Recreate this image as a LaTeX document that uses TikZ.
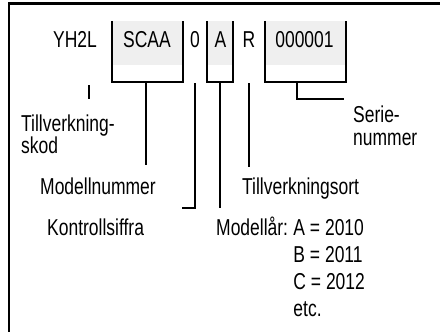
\documentclass[tikz,border=0pt]{standalone}
\usepackage{fontspec}
\setmainfont[FakeStretch=0.76]{Liberation Sans}
\definecolor{boxgray}{HTML}{EFEFEF}
\begin{document}
\begin{tikzpicture}[x=1pt,y=-1pt,
  lbl/.style={inner sep=0pt, font=\fontsize{23}{23}\selectfont},
  codebox/.style={draw=none, inner sep=0pt},
  conn/.style={line width=2pt},
  frame/.style={line width=2.4pt}]
\useasboundingbox (0,0) rectangle (440,332);
% frame
\coordinate (fbl) at (9,334);
\coordinate (ftl) at (9,3.5);
\coordinate (ftr) at (442,3.5);
\draw[frame] (fbl) -- (ftl) -- (ftr);
% boxes
\node[codebox, minimum width=71pt, minimum height=61pt] (scaa) at (147.5,51.5) {};
\node[codebox, minimum width=26pt, minimum height=61pt] (abox) at (220,51.5) {};
\node[codebox, minimum width=81pt, minimum height=61pt] (ser) at (305.5,51.5) {};
\foreach \b in {scaa,abox,ser}{
  \fill[boxgray] (\b.north west) rectangle ([yshift=17pt]\b.south east);
  \draw[conn] (\b.north west) -- (\b.south west) -- (\b.south east) -- (\b.north east);
}
% code texts
\node[lbl, anchor=base] (tyh) at (75,48) {YH2L};
\node[lbl, anchor=base] (tscaa) at (147,48) {SCAA};
\node[lbl, anchor=base] (tzero) at (195,48) {0};
\node[lbl, anchor=base] (ta) at (220.5,48) {A};
\node[lbl, anchor=base] (tr) at (249,48) {R};
\node[lbl, anchor=base] (tser) at (304.5,48) {000001};
% labels
\node[lbl, anchor=base west] (tk1) at (21,131) {Tillverkning-};
\node[lbl, anchor=base west] (tk2) at (21,153) {skod};
\node[lbl, anchor=base west] (mn) at (40,194) {Modellnummer};
\node[lbl, anchor=base west] (ks) at (47,235) {Kontrollsiffra};
\node[lbl, anchor=base west] (to) at (242,194) {Tillverkningsort};
\node[lbl, anchor=base west] (sn1) at (353,122) {Serie-};
\node[lbl, anchor=base west] (sn2) at (353,145) {nummer};
\node[lbl, anchor=base west] (ml) at (216,235) {Modellår:};
\node[lbl, anchor=base west] (ya) at ([xshift=5pt]ml.base east) {A = 2010};
\node[lbl, anchor=base west] (yb) at ([yshift=-27pt]ya.base west) {B = 2011};
\node[lbl, anchor=base west] (yc) at ([yshift=-27pt]yb.base west) {C = 2012};
\node[lbl, anchor=base west] (yd) at ([yshift=-27pt]yc.base west) {etc.};
% connectors
\coordinate (tkA) at (89,85);
\coordinate (tkB) at (89,99);
\draw[conn] (tkA) -- (tkB);
\coordinate (mnend) at (146,165);
\draw[conn] (scaa.south -| mnend) -- (mnend);
\coordinate (k0top) at (194.5,83);
\coordinate (k0bot) at (194.5,208);
\coordinate (k0end) at (182,208);
\draw[conn] (k0top) -- (k0bot) -- (k0end);
\coordinate (maend) at (220,208);
\draw[conn] (abox.south) -- (maend);
\coordinate (rtop) at (249,83);
\coordinate (rend) at (249,167);
\draw[conn] (rtop) -- (rend);
\coordinate (sx) at (297,99);
\coordinate (send) at (344,99);
\draw[conn] (ser.south -| sx) -- (sx) -- (send);
\end{tikzpicture}
\end{document}
